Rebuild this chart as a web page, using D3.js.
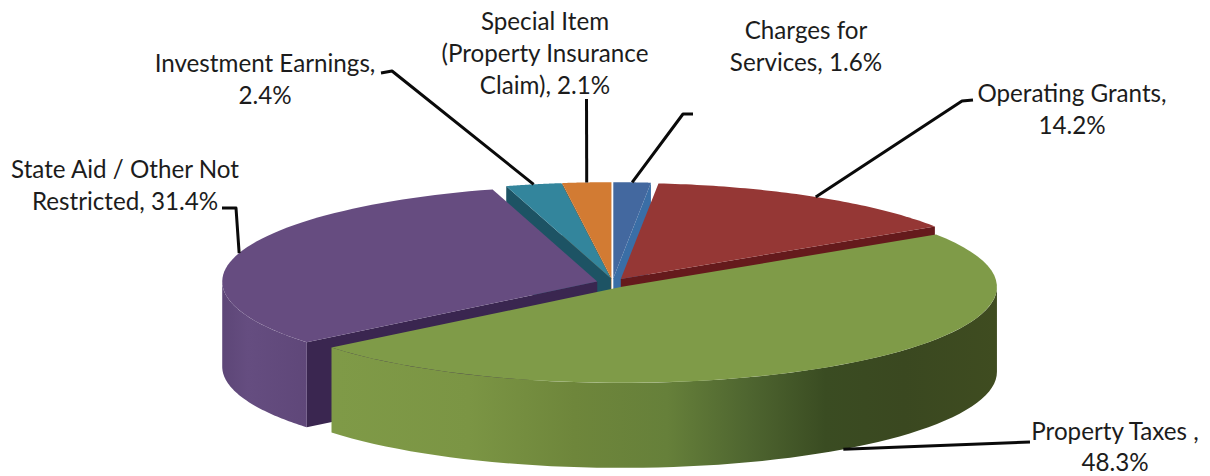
<!DOCTYPE html>
<html>
<head>
<meta charset="utf-8">
<script src="https://cdn.jsdelivr.net/npm/d3@7/dist/d3.min.js"></script>
<style>
  html, body { margin: 0; padding: 0; background: #fff; }
  svg { display: block; }
  text { font-family: Lato, "Open Sans", sans-serif; fill: #1c1c1c; }
</style>
</head>
<body>
<svg id="chart" width="1210" height="476"></svg>
<script>
// Revenue shares, clockwise from twelve o'clock.
const categories = ["Charges for Services", "Operating Grants", "Property Taxes",
  "State Aid / Other Not Restricted", "Investment Earnings", "Special Item (Property Insurance Claim)"];
const shares = [1.6, 14.2, 48.3, 31.4, 2.4, 2.1];

// Label text by line; {v} stands for the slice's formatted value.
const labelLines = [
  ["Charges for", "Services, {v}"],
  ["Operating Grants,", "{v}"],
  ["Property Taxes ,", "{v}"],
  ["State Aid / Other Not", "Restricted, {v}"],
  ["Investment Earnings,", "{v}"],
  ["Special Item", "(Property Insurance", "Claim), {v}"]
];

const topColors  = ["#43689f", "#953735", "#7f9b48", "#664c80", "#33859c", "#d27b33"];
const cutColors  = ["#3a6ea6", "#651a1c", "#4f6330", "#3a2650", "#1d5364", "#8c5a2a"];
const wallColors = ["#36578a", "#7a2a2a", "url(#greenWall)", "url(#purpleWall)", "#256a7c", "#a9622a"];

// Pie geometry in screen units.
const cx = 612.5, cy = 283, rx = 375, ry = 96, depth = 85;
const explodeX = [16, 16, 16, 16, 8, 16], explodeY = 4.8;

// Label block anchors (centre x, first baseline), line spacing and leader elbows, in slice order.
const labelAnchor = [[806, 39], [1072, 102], [1115, 440], [125, 178], [265, 72], [545, 30]];
const lineHeights = [32, 32, 31, 32, 32, 32];
const leaderElbows = [
  [[683, 114], [693, 114]],
  [[962, 101], [973, 100]],
  [[1030, 442]],
  [[236, 208], [222, 208]],
  [[392, 71], [381, 73]],
  [[586.5, 99]]
];

const svg = d3.select("#chart");
const defs = svg.append("defs");

function addGradient(id, x1, x2, stops) {
  const g = defs.append("linearGradient").attr("id", id)
    .attr("gradientUnits", "userSpaceOnUse")
    .attr("x1", x1).attr("x2", x2).attr("y1", 0).attr("y2", 0);
  stops.forEach(([o, c]) => g.append("stop").attr("offset", o).attr("stop-color", c));
}
addGradient("greenWall", 337, 997, [
  [0, "#7f9a47"], [0.2, "#7b9544"], [0.36, "#6e863b"], [0.5, "#66803a"],
  [0.62, "#4f6630"], [0.74, "#3a4c22"], [0.86, "#3a4820"], [1, "#3f4c20"]
]);
addGradient("purpleWall", 222, 308, [
  [0, "#5d4677"], [0.3, "#654d80"], [1, "#5f4779"]
]);

const arcs = d3.pie().sort(null).value(d => d)(shares).map((a, i) => {
  const mid = (a.startAngle + a.endAngle) / 2;
  return {
    i, start: a.startAngle, end: a.endAngle, mid,
    ox: cx + explodeX[i] * Math.sin(mid),
    oy: cy - explodeY * Math.cos(mid)
  };
});

const rim = (a, t, z = 0) => [a.ox + rx * Math.sin(t), a.oy - ry * Math.cos(t) + z];
const line = d3.line();
const sweep = (a, t0, t1, z = 0) =>
  d3.range(0, 61).map(k => rim(a, t0 + (t1 - t0) * k / 60, z));

function drawSlice(a) {
  const g = svg.append("g").attr("class", "slice");

  // Radial cut faces that look toward the viewer.
  const cuts = [];
  if (Math.sin(a.start) < 0) cuts.push(a.start);
  if (Math.sin(a.end) > 0) cuts.push(a.end);
  cuts.forEach(t => {
    const p = rim(a, t), q = rim(a, t, depth);
    g.append("path")
      .attr("d", line([[a.ox, a.oy], p, q, [a.ox, a.oy + depth]]) + "Z")
      .attr("fill", cutColors[a.i]);
  });

  // Outer wall along the front half of the rim.
  const t0 = Math.max(a.start, Math.PI / 2), t1 = Math.min(a.end, Math.PI * 1.5);
  if (t1 > t0) {
    const pts = sweep(a, t0, t1).concat(sweep(a, t1, t0, depth));
    g.append("path").attr("d", line(pts) + "Z").attr("fill", wallColors[a.i]);
  }

  // Top face.
  g.append("path")
    .attr("d", line([[a.ox, a.oy]].concat(sweep(a, a.start, a.end))) + "Z")
    .attr("fill", topColors[a.i]);
}

// Back slices first so the nearer ones overlap them.
[5, 4, 0, 1, 3, 2].forEach(i => drawSlice(arcs[i]));

// Leader lines start on the rim at each slice's mid angle.
arcs.forEach(a => {
  const frontFacing = Math.cos(a.mid) < 0;
  const start = rim(a, a.mid, frontFacing ? depth : 0);
  svg.append("path")
    .attr("d", line([start].concat(leaderElbows[a.i])))
    .attr("fill", "none").attr("stroke", "#0a0a0a").attr("stroke-width", 3)
    .attr("stroke-linejoin", "round");
});

// Data labels.
arcs.forEach(a => {
  const [x, y] = labelAnchor[a.i];
  const text = svg.append("text").attr("text-anchor", "middle").attr("font-size", 24.2);
  labelLines[a.i].forEach((s, k) => {
    text.append("tspan").attr("x", x).attr("y", y + k * lineHeights[a.i])
      .text(s.replace("{v}", shares[a.i].toFixed(1) + "%"));
  });
});
</script>
</body>
</html>
